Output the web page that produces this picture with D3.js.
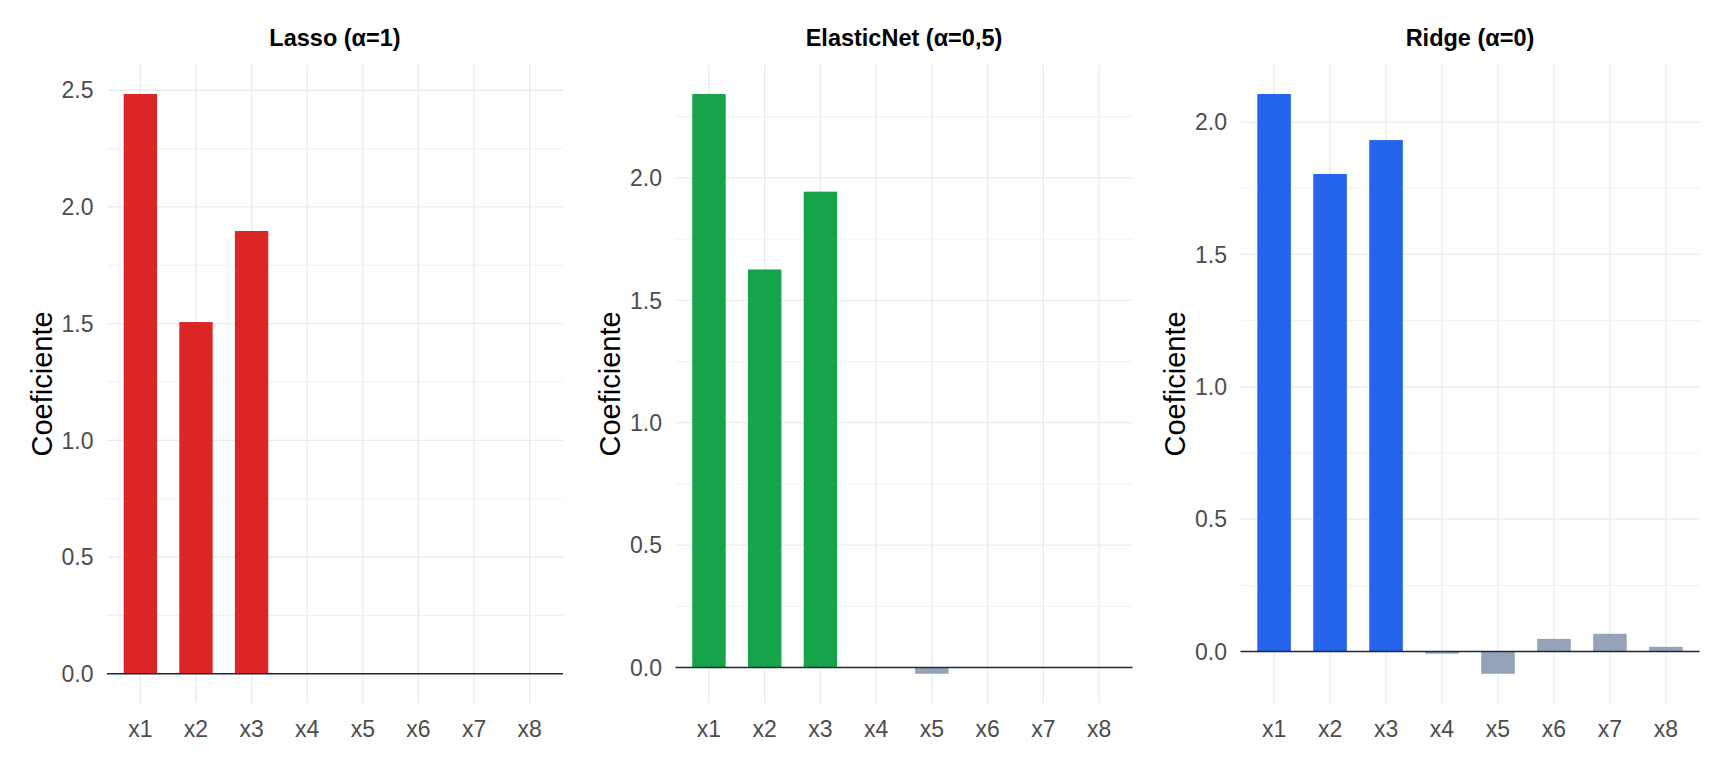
<!doctype html>
<html lang="es">
<head>
<meta charset="utf-8">
<script src="https://d3js.org/d3.v7.min.js"></script>
<title>Coeficientes Lasso / ElasticNet / Ridge</title>
<style>
  html, body { margin: 0; padding: 0; background: #fff; }
  svg { display: block; font-family: "Liberation Sans", Arial, sans-serif; }
  .grid-major { stroke: #ebebeb; stroke-width: 1.3; }
  .grid-minor { stroke: #ebebeb; stroke-width: 0.7; }
  .tick-label { fill: #4d4d4d; font-size: 23px; }
  .axis-title { fill: #000; font-size: 29px; }
  .panel-title { fill: #000; font-size: 23.5px; font-weight: bold; }
  .zero-line { stroke: #1e293b; stroke-width: 1.6; }
</style>
</head>
<body>
<div id="chart"></div>
<script>
// data
const variables = ["x1", "x2", "x3", "x4", "x5", "x6", "x7", "x8"];
const modelTitles = ["Lasso (α=1)", "ElasticNet (α=0,5)", "Ridge (α=0)"];
const lassoCoef   = [2.484, 1.507, 1.897, 0, 0, 0, 0, 0];
const elasticCoef = [2.343, 1.626, 1.944, 0, -0.026, 0, 0, 0];
const ridgeCoef   = [2.106, 1.804, 1.932, -0.008, -0.084, 0.048, 0.067, 0.018];
const trueVars    = ["x1", "x2", "x3"];

const modelColors = ["#dc2626", "#16a34a", "#2563eb"];
const otherColor = "#94a3b8";

const W = 1728, H = 768;
const panelTop = 65, panelBottom = 702.8;
const panelLefts = [107, 675.5, 1240.5];
const panelWidths = [456, 457, 459];

const svg = d3.select("#chart").append("svg")
  .attr("width", W)
  .attr("height", H);

const fmt = d3.format(".1f");

[lassoCoef, elasticCoef, ridgeCoef].forEach((coefs, p) => {
  const left = panelLefts[p];
  const right = left + panelWidths[p];
  const g = svg.append("g");

  const x = d3.scaleBand()
    .domain(variables)
    .range([left, right])
    .paddingInner(0.4)
    .paddingOuter(0.3);

  // ggplot style 5% expansion, always including zero
  const lo = Math.min(0, d3.min(coefs));
  const hi = Math.max(0, d3.max(coefs));
  const pad = (hi - lo) * 0.05;
  const y = d3.scaleLinear()
    .domain([lo - pad, hi + pad])
    .range([panelBottom, panelTop]);

  const major = y.ticks(5);
  const step = major[1] - major[0];
  const minor = [];
  for (let v = major[0] - step / 2; v <= y.domain()[1]; v += step) {
    if (v >= y.domain()[0]) minor.push(v);
  }

  g.selectAll(".grid-minor")
    .data(minor)
    .enter().append("line")
    .attr("class", "grid-minor")
    .attr("x1", left).attr("x2", right)
    .attr("y1", d => y(d)).attr("y2", d => y(d));

  g.selectAll(".grid-major.h")
    .data(major)
    .enter().append("line")
    .attr("class", "grid-major h")
    .attr("x1", left).attr("x2", right)
    .attr("y1", d => y(d)).attr("y2", d => y(d));

  g.selectAll(".grid-major.v")
    .data(variables)
    .enter().append("line")
    .attr("class", "grid-major v")
    .attr("x1", d => x(d) + x.bandwidth() / 2)
    .attr("x2", d => x(d) + x.bandwidth() / 2)
    .attr("y1", panelTop).attr("y2", panelBottom);

  g.selectAll("rect")
    .data(variables)
    .enter().append("rect")
    .attr("x", d => x(d))
    .attr("width", x.bandwidth())
    .attr("y", (d, i) => y(Math.max(0, coefs[i])))
    .attr("height", (d, i) => Math.abs(y(coefs[i]) - y(0)))
    .attr("fill", d => trueVars.includes(d) ? modelColors[p] : otherColor);

  g.append("line")
    .attr("class", "zero-line")
    .attr("x1", left).attr("x2", right)
    .attr("y1", y(0)).attr("y2", y(0));

  // y tick labels
  g.selectAll(".ytick")
    .data(major)
    .enter().append("text")
    .attr("class", "tick-label ytick")
    .attr("x", left - 13.5)
    .attr("y", d => y(d) + 8.2)
    .attr("text-anchor", "end")
    .text(d => fmt(d));

  // x tick labels
  g.selectAll(".xtick")
    .data(variables)
    .enter().append("text")
    .attr("class", "tick-label xtick")
    .attr("x", d => x(d) + x.bandwidth() / 2)
    .attr("y", 737)
    .attr("text-anchor", "middle")
    .text(d => d);

  g.append("text")
    .attr("class", "axis-title")
    .attr("transform", "translate(" + (left - 55.5) + "," + ((panelTop + panelBottom) / 2) + ") rotate(-90)")
    .attr("text-anchor", "middle")
    .text("Coeficiente");

  g.append("text")
    .attr("class", "panel-title")
    .attr("x", (left + right) / 2)
    .attr("y", 46)
    .attr("text-anchor", "middle")
    .text(modelTitles[p]);
});
</script>
</body>
</html>
